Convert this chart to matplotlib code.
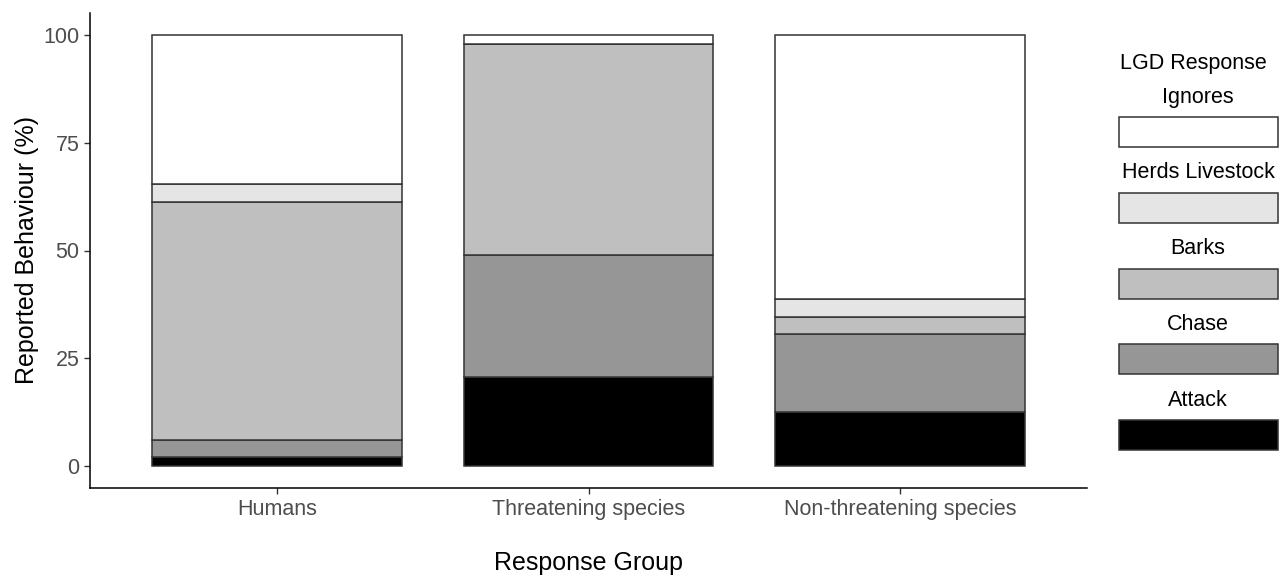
import matplotlib
matplotlib.use("Agg")
import matplotlib.pyplot as plt
from matplotlib.patches import Rectangle
import numpy as np

plt.rcParams["font.family"] = ["Liberation Sans", "DejaVu Sans"]

# data
groups = ["Humans", "Threatening species", "Non-threatening species"]
responses = ["Attack", "Chase", "Barks", "Herds Livestock", "Ignores"]
attack = [2.2, 20.7, 12.5]
chase = [4.0, 28.3, 18.2]
barks = [55.1, 48.8, 4.0]
herds = [4.0, 0.0, 4.1]
ignores = [34.7, 2.2, 61.2]
colours = ["#000000", "#969696", "#bfbfbf", "#e5e5e5", "#ffffff"]

W, H = 1281, 575
fig = plt.figure(figsize=(W / 100, H / 100), dpi=100)
ax = fig.add_axes([90 / W, 1 - 488 / H, (1087 - 90) / W, (488 - 13) / H])

x = np.arange(1, len(groups) + 1)
bottom = np.zeros(len(groups))
for vals, col in zip([attack, chase, barks, herds, ignores], colours):
    vals = np.array(vals)
    ax.bar(x, vals, width=0.8, bottom=bottom, color=col, edgecolor="#333333", linewidth=1.1)
    bottom += vals

ax.set_xlim(0.4, 3.6)
ax.set_ylim(-5, 105)
ax.set_yticks([0, 25, 50, 75, 100])
ax.set_xticks(x)
ax.set_xticklabels(groups)
ax.tick_params(axis="both", labelsize=15.5, labelcolor="#4d4d4d", color="#333333", length=4, width=1)
ax.tick_params(axis="x", pad=4)
ax.spines["top"].set_visible(False)
ax.spines["right"].set_visible(False)
ax.spines["left"].set_linewidth(1.1)
ax.spines["bottom"].set_linewidth(1.1)
ax.set_xlabel("Response Group", fontsize=18, labelpad=22)
ax.set_ylabel("Reported Behaviour (%)", fontsize=18, labelpad=3)

# legend drawn by hand: labels above the keys
lax = fig.add_axes([0, 0, 1, 1])
lax.set_xlim(0, W)
lax.set_ylim(H, 0)
lax.axis("off")
lax.text(1193, 63, "LGD Response", fontsize=15.5, ha="center", va="center")
legend_order = ["Ignores", "Herds Livestock", "Barks", "Chase", "Attack"]
legend_cols = colours[::-1]
for i, (lab, col) in enumerate(zip(legend_order, legend_cols)):
    y0 = 117 + i * 75.8
    lax.text(1198, y0 - 20, lab, fontsize=15.5, ha="center", va="center")
    lax.add_patch(Rectangle((1119, y0), 159, 30, facecolor=col, edgecolor="#333333", linewidth=1.1))

fig.savefig("out.png", dpi=100)
